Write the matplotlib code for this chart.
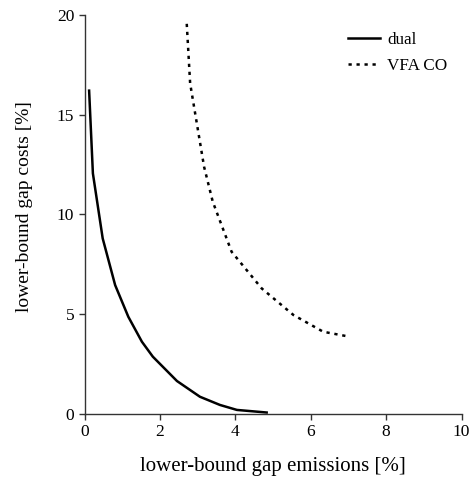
import matplotlib
matplotlib.use("Agg")
import matplotlib.pyplot as plt

dual_x = [0.12, 0.22, 0.48, 0.81, 1.16, 1.52, 1.81, 2.45, 3.06, 3.59, 4.04, 4.83]
dual_y = [16.2, 12.05, 8.79, 6.45, 4.86, 3.61, 2.86, 1.64, 0.85, 0.44, 0.19, 0.06]

vfa_x = [2.71, 2.80, 3.17, 3.40, 3.90, 4.70, 5.54, 6.33, 6.95]
vfa_y = [19.55, 16.56, 12.38, 10.63, 8.12, 6.28, 4.95, 4.11, 3.89]

xticks = [0, 2, 4, 6, 8, 10]
yticks = [0, 5, 10, 15, 20]

plt.rcParams['font.family'] = ['Liberation Serif', 'DejaVu Serif']

fig = plt.figure(figsize=(4.7, 4.79), dpi=100)
ax = fig.add_axes([0.18, 0.1363, 0.802, 0.8327])

ax.plot(dual_x, dual_y, color='black', lw=1.8, label='dual')
ax.plot(vfa_x, vfa_y, color='black', lw=1.8, linestyle=(0, (1.3, 1.9)), label='VFA CO')

ax.set_xlim(0, 10)
ax.set_ylim(0, 20)
ax.set_xticks(xticks)
ax.set_yticks(yticks)
ax.tick_params(labelsize=12.5, direction='out', length=4, width=1, colors='#333333', labelcolor='black')
for s in ['top', 'right']:
    ax.spines[s].set_visible(False)
for s in ['left', 'bottom']:
    ax.spines[s].set_color('#333333')
    ax.spines[s].set_linewidth(1.0)

ax.set_xlabel('lower-bound gap emissions [%]', fontsize=15, labelpad=12)
ax.set_ylabel('lower-bound gap costs [%]', fontsize=14)
ax.yaxis.set_label_coords(-0.137, 0.52)

leg = ax.legend(loc='upper left', frameon=False, fontsize=12.3, handlelength=1.85,
                handletextpad=0.4, borderpad=0, borderaxespad=0,
                bbox_to_anchor=(0.70, 0.957), labelspacing=0.6)

fig.savefig('out.png', dpi=100)
